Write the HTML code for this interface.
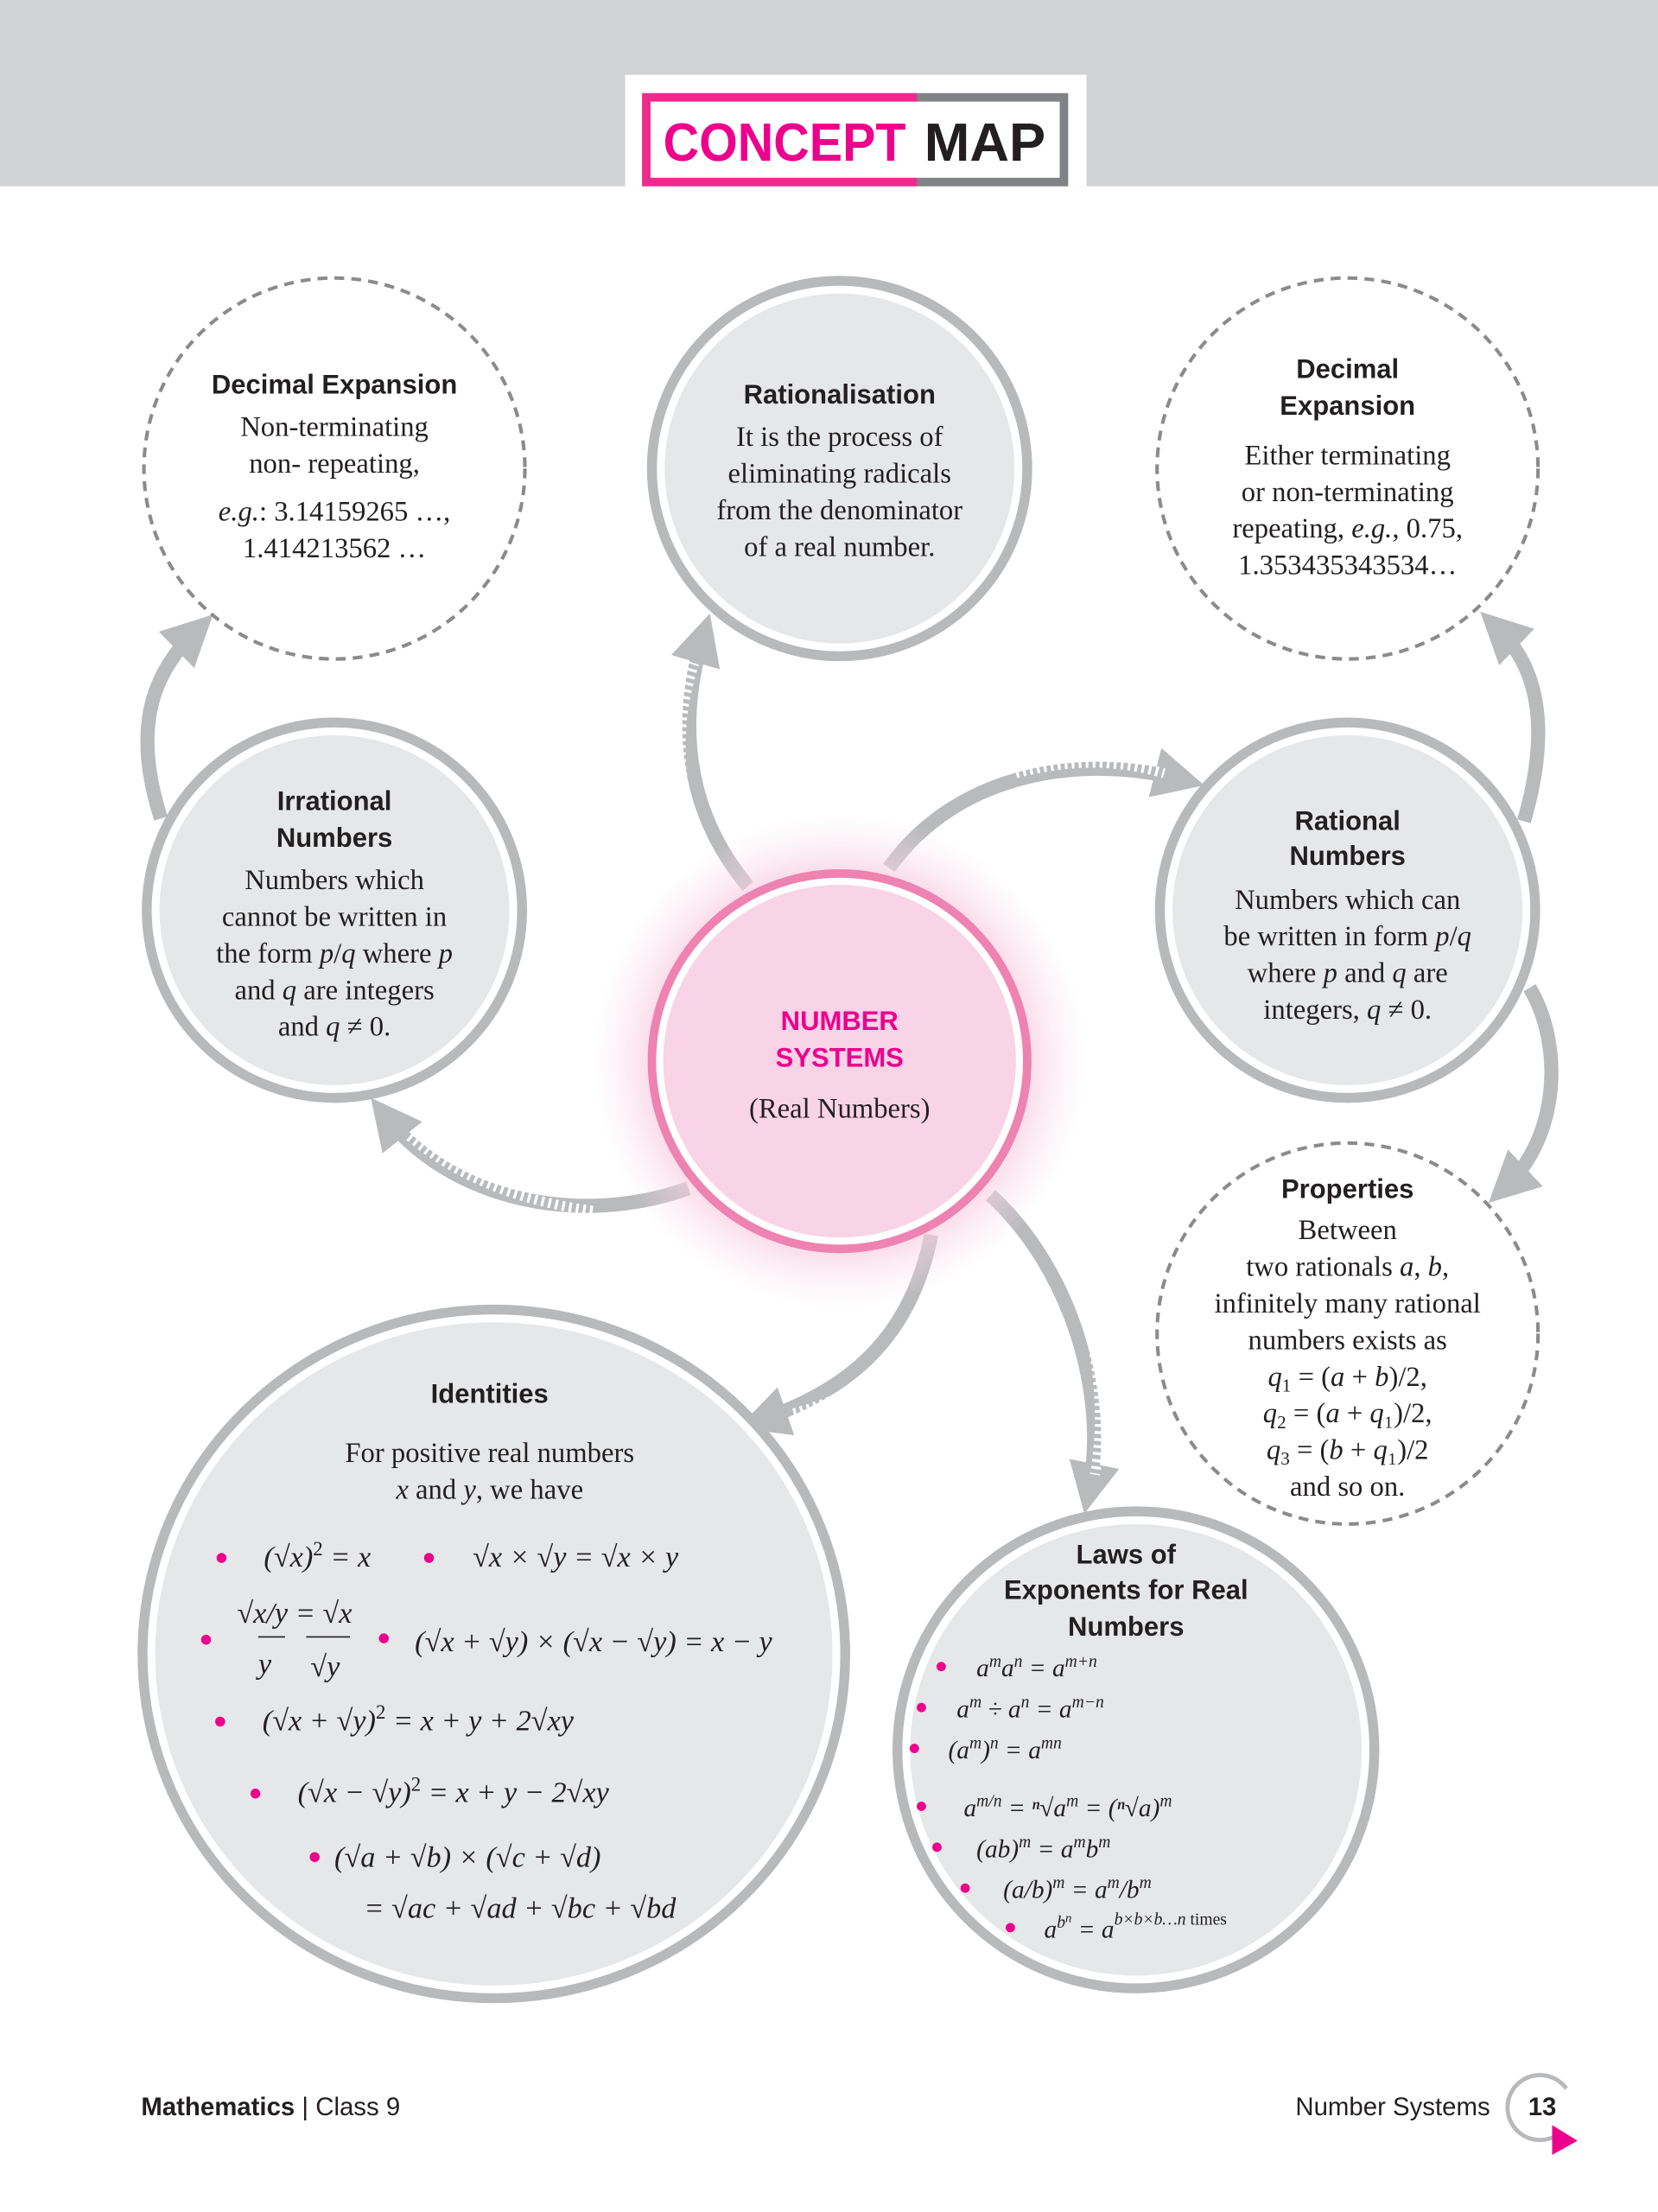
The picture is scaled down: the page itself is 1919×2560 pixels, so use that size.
<!DOCTYPE html>
<html><head><meta charset="utf-8"><style>
html,body{margin:0;padding:0;background:#fff}
svg{display:block}
.t{font-family:"Liberation Sans Narrow","Liberation Sans",sans-serif;font-weight:bold;font-size:19px;fill:#231f20;text-anchor:middle}
.b{font-family:"Liberation Serif",serif;font-size:20px;fill:#231f20;text-anchor:middle}
.m{font-family:"Liberation Serif",serif;font-size:21px;fill:#231f20;font-style:italic}
.d{fill:#ec008c}
</style></head><body>
<svg width="1919" height="2560" viewBox="0 0 1175 1567.5" xmlns="http://www.w3.org/2000/svg">
<defs>
<radialGradient id="g" cx="50%" cy="50%" r="50%">
<stop offset="0.7" stop-color="#f7c6dd" stop-opacity="0.9"/>
<stop offset="1" stop-color="#fbe3ef" stop-opacity="0"/>
</radialGradient>
<marker id="ah" viewBox="0 0 10 10" refX="5" refY="5" markerWidth="3.6" markerHeight="3.6" orient="auto">
<path d="M0,0 L10,5 L0,10 z" fill="#b9babc"/>
</marker>
</defs>
<rect x="0" y="0" width="1175" height="132" fill="#d1d2d4"/>
<rect x="443" y="53" width="327" height="79" fill="#fff"/>
<rect x="458" y="69" width="296" height="60" fill="#fff"/>
<path d="M650,69 L458,69 L458,129 L650,129" fill="none" stroke="#ec2b8c" stroke-width="6"/>
<path d="M650,69 L754,69 L754,129 L650,129" fill="none" stroke="#808285" stroke-width="6"/>
<text x="470" y="114" font-family="Liberation Sans,sans-serif" font-weight="bold" font-size="38" fill="#ec008c" textLength="172" lengthAdjust="spacingAndGlyphs">CONCEPT</text>
<text x="655" y="114" font-family="Liberation Sans,sans-serif" font-weight="bold" font-size="38" fill="#231f20" textLength="86" lengthAdjust="spacingAndGlyphs">MAP</text>

<g fill="none" stroke="#b9babc" stroke-width="10" marker-end="url(#ah)">
<path d="M114,580 C95,520 105,480 138,448"/>
<path d="M530,628 C490,580 478,520 498,452"/>
<path d="M630,615 C680,545 770,535 836,552"/>
<path d="M1080,582 C1098,520 1092,475 1062,446"/>
<path d="M1084,700 C1108,740 1105,805 1068,840"/>
<path d="M488,842 C410,870 320,850 274,792"/>
<path d="M660,875 C645,950 600,985 540,1006"/>
<path d="M702,847 C760,900 785,990 772,1055"/>
</g>
<g fill="none" stroke="#fff" stroke-width="7" stroke-dasharray="2 3">
<path d="M485,560 C480,530 482,500 492,470"/>
<path d="M720,548 C760,538 790,538 825,548"/>
<path d="M420,858 C360,850 320,830 290,805"/>
<path d="M640,955 C620,980 590,995 560,1002"/>
<path d="M770,935 C780,970 782,1010 776,1045"/>
</g>

<circle cx="237" cy="332" r="135" fill="#fff" stroke="#8a8b8d" stroke-width="2.5" stroke-dasharray="7 5"/>
<text class="t" x="237" y="279">Decimal Expansion</text>
<text class="b" x="237" y="309">Non-terminating</text>
<text class="b" x="237" y="335">non- repeating,</text>
<text class="b" x="237" y="369"><tspan font-style="italic">e.g.</tspan>: 3.14159265 …,</text>
<text class="b" x="237" y="395">1.414213562 …</text>

<circle cx="595" cy="332" r="133" fill="#fff" stroke="#b8b9bb" stroke-width="7"/>
<circle cx="595" cy="332" r="124" fill="#e6e7e8"/>
<text class="t" x="595" y="286">Rationalisation</text>
<text class="b" x="595" y="316">It is the process of</text>
<text class="b" x="595" y="342">eliminating radicals</text>
<text class="b" x="595" y="368">from the denominator</text>
<text class="b" x="595" y="394">of a real number.</text>

<circle cx="955" cy="332" r="135" fill="#fff" stroke="#8a8b8d" stroke-width="2.5" stroke-dasharray="7 5"/>
<text class="t" x="955" y="268">Decimal</text>
<text class="t" x="955" y="294">Expansion</text>
<text class="b" x="955" y="329">Either terminating</text>
<text class="b" x="955" y="355">or non-terminating</text>
<text class="b" x="955" y="381">repeating, <tspan font-style="italic">e.g.</tspan>, 0.75,</text>
<text class="b" x="955" y="407">1.353435343534…</text>

<circle cx="237" cy="645" r="133" fill="#fff" stroke="#b8b9bb" stroke-width="7"/>
<circle cx="237" cy="645" r="124" fill="#e6e7e8"/>
<text class="t" x="237" y="574">Irrational</text>
<text class="t" x="237" y="600">Numbers</text>
<text class="b" x="237" y="630">Numbers which</text>
<text class="b" x="237" y="656">cannot be written in</text>
<text class="b" x="237" y="682">the form <tspan font-style="italic">p</tspan>/<tspan font-style="italic">q</tspan> where <tspan font-style="italic">p</tspan></text>
<text class="b" x="237" y="708">and <tspan font-style="italic">q</tspan> are integers</text>
<text class="b" x="237" y="734">and <tspan font-style="italic">q</tspan> ≠ 0.</text>

<circle cx="955" cy="645" r="133" fill="#fff" stroke="#b8b9bb" stroke-width="7"/>
<circle cx="955" cy="645" r="124" fill="#e6e7e8"/>
<text class="t" x="955" y="588">Rational</text>
<text class="t" x="955" y="613">Numbers</text>
<text class="b" x="955" y="644">Numbers which can</text>
<text class="b" x="955" y="670">be written in form <tspan font-style="italic">p</tspan>/<tspan font-style="italic">q</tspan></text>
<text class="b" x="955" y="696">where <tspan font-style="italic">p</tspan> and <tspan font-style="italic">q</tspan> are</text>
<text class="b" x="955" y="722">integers, <tspan font-style="italic">q</tspan> ≠ 0.</text>

<circle cx="595" cy="752" r="175" fill="url(#g)"/>
<circle cx="595" cy="752" r="133" fill="#fff" stroke="#ee82b0" stroke-width="6"/>
<circle cx="595" cy="752" r="125" fill="#f9d3e6"/>
<text class="t" x="595" y="730" style="fill:#ec008c">NUMBER</text>
<text class="t" x="595" y="756" style="fill:#ec008c">SYSTEMS</text>
<text class="b" x="595" y="792">(Real Numbers)</text>

<circle cx="955" cy="945" r="135" fill="#fff" stroke="#8a8b8d" stroke-width="2.5" stroke-dasharray="7 5"/>
<text class="t" x="955" y="849">Properties</text>
<text class="b" x="955" y="878">Between</text>
<text class="b" x="955" y="904">two rationals <tspan font-style="italic">a</tspan>, <tspan font-style="italic">b</tspan>,</text>
<text class="b" x="955" y="930">infinitely many rational</text>
<text class="b" x="955" y="956">numbers exists as</text>
<text class="b" x="955" y="982"><tspan font-style="italic">q</tspan><tspan font-size="13" dy="4">1</tspan><tspan dy="-4"> = (<tspan font-style="italic">a</tspan> + <tspan font-style="italic">b</tspan>)/2,</tspan></text>
<text class="b" x="955" y="1008"><tspan font-style="italic">q</tspan><tspan font-size="13" dy="4">2</tspan><tspan dy="-4"> = (<tspan font-style="italic">a</tspan> + <tspan font-style="italic">q</tspan>₁)/2,</tspan></text>
<text class="b" x="955" y="1034"><tspan font-style="italic">q</tspan><tspan font-size="13" dy="4">3</tspan><tspan dy="-4"> = (<tspan font-style="italic">b</tspan> + <tspan font-style="italic">q</tspan>₁)/2</tspan></text>
<text class="b" x="955" y="1060">and so on.</text>

<ellipse cx="350" cy="1172" rx="249" ry="244" fill="#fff" stroke="#b8b9bb" stroke-width="7"/>
<ellipse cx="350" cy="1172" rx="240" ry="235" fill="#e6e7e8"/>
<text class="t" x="347" y="994">Identities</text>
<text class="b" x="347" y="1036">For positive real numbers</text>
<text class="b" x="347" y="1062"><tspan font-style="italic">x</tspan> and <tspan font-style="italic">y</tspan>, we have</text>
<circle class="d" cx="157" cy="1104" r="3.5"/>
<text class="m" x="187" y="1110">(√x)<tspan font-size="14" dy="-8" font-style="normal">2</tspan><tspan dy="8"> = x</tspan></text>
<circle class="d" cx="304" cy="1104" r="3.5"/>
<text class="m" x="335" y="1110">√x × √y = √x × y</text>
<circle class="d" cx="146" cy="1162" r="3.5"/>
<text class="m" x="168" y="1150">√x/y = √x</text>
<line x1="183" y1="1160" x2="202" y2="1160" stroke="#231f20" stroke-width="1"/>
<line x1="217" y1="1160" x2="248" y2="1160" stroke="#231f20" stroke-width="1"/>
<text class="m" x="183" y="1186">y</text>
<text class="m" x="220" y="1188">√y</text>
<circle class="d" cx="272" cy="1161" r="3.5"/>
<text class="m" x="294" y="1170">(√x + √y) × (√x − √y) = x − y</text>
<circle class="d" cx="156" cy="1220" r="3.5"/>
<text class="m" x="186" y="1226">(√x + √y)<tspan font-size="14" dy="-8" font-style="normal">2</tspan><tspan dy="8"> = x + y + 2√xy</tspan></text>
<circle class="d" cx="181" cy="1271" r="3.5"/>
<text class="m" x="211" y="1277">(√x − √y)<tspan font-size="14" dy="-8" font-style="normal">2</tspan><tspan dy="8"> = x + y − 2√xy</tspan></text>
<circle class="d" cx="223" cy="1316" r="3.5"/>
<text class="m" x="237" y="1323">(√a + √b) × (√c + √d)</text>
<text class="m" x="258" y="1359">= √ac + √ad + √bc + √bd</text>

<circle cx="805" cy="1240" r="169" fill="#fff" stroke="#b8b9bb" stroke-width="7"/>
<circle cx="805" cy="1240" r="160" fill="#e6e7e8"/>
<text class="t" x="798" y="1108">Laws of</text>
<text class="t" x="798" y="1133">Exponents for Real</text>
<text class="t" x="798" y="1159">Numbers</text>
<g font-family="Liberation Serif,serif" font-style="italic" font-size="18" fill="#231f20">
<circle class="d" cx="667" cy="1181" r="3.3"/>
<text x="692" y="1188">a<tspan font-size="12" dy="-7">m</tspan><tspan dy="7">a</tspan><tspan font-size="12" dy="-7">n</tspan><tspan dy="7"> = a</tspan><tspan font-size="12" dy="-7">m+n</tspan></text>
<circle class="d" cx="653" cy="1210" r="3.3"/>
<text x="678" y="1217">a<tspan font-size="12" dy="-7">m</tspan><tspan dy="7"> ÷ a</tspan><tspan font-size="12" dy="-7">n</tspan><tspan dy="7"> = a</tspan><tspan font-size="12" dy="-7">m−n</tspan></text>
<circle class="d" cx="648" cy="1239" r="3.3"/>
<text x="672" y="1246">(a<tspan font-size="12" dy="-7">m</tspan><tspan dy="7">)</tspan><tspan font-size="12" dy="-7">n</tspan><tspan dy="7"> = a</tspan><tspan font-size="12" dy="-7">mn</tspan></text>
<circle class="d" cx="653" cy="1280" r="3.3"/>
<text x="683" y="1287">a<tspan font-size="12" dy="-7">m/n</tspan><tspan dy="7"> = ⁿ√a</tspan><tspan font-size="12" dy="-7">m</tspan><tspan dy="7"> = (ⁿ√a)</tspan><tspan font-size="12" dy="-7">m</tspan></text>
<circle class="d" cx="664" cy="1309" r="3.3"/>
<text x="692" y="1316">(ab)<tspan font-size="12" dy="-7">m</tspan><tspan dy="7"> = a</tspan><tspan font-size="12" dy="-7">m</tspan><tspan dy="7">b</tspan><tspan font-size="12" dy="-7">m</tspan></text>
<circle class="d" cx="684" cy="1338" r="3.3"/>
<text x="711" y="1345">(a/b)<tspan font-size="12" dy="-7">m</tspan><tspan dy="7"> = a</tspan><tspan font-size="12" dy="-7">m</tspan><tspan dy="7">/b</tspan><tspan font-size="12" dy="-7">m</tspan></text>
<circle class="d" cx="716" cy="1366" r="3.3"/>
<text x="740" y="1373">a<tspan font-size="12" dy="-7">b</tspan><tspan font-size="9" dy="-4">n</tspan><tspan dy="11"> = a</tspan><tspan font-size="12" dy="-9">b×b×b…n <tspan font-style="normal">times</tspan></tspan></text>
</g>

<text x="100" y="1499" font-family="Liberation Sans,sans-serif" font-size="18" fill="#231f20"><tspan font-weight="bold">Mathematics</tspan> | Class 9</text>
<text x="1056" y="1499" font-family="Liberation Sans,sans-serif" font-size="18" fill="#231f20" text-anchor="end">Number Systems</text>
<path d="M1105,1512 A23,23 0 1 1 1110,1480" fill="none" stroke="#b8b9bb" stroke-width="3"/>
<text x="1093" y="1499" font-family="Liberation Sans,sans-serif" font-weight="bold" font-size="18" fill="#231f20" text-anchor="middle">13</text>
<path d="M1100,1506 L1118,1517 L1100,1527 z" fill="#ec008c"/>
</svg>
</body></html>
